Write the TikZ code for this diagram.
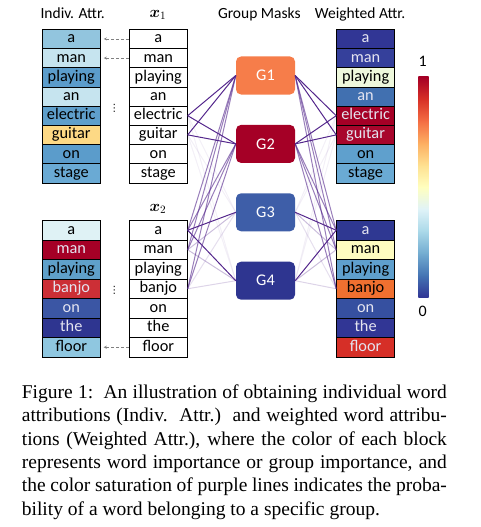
\documentclass[tikz,border=0pt]{standalone}
\usepackage{fix-cm}
\usepackage{amsmath}
\usepackage{fontspec}
\setsansfont{Carlito}
\newfontfamily\capfont{Liberation Serif}
\newfontfamily\dotsfont{DejaVu Sans}
\usetikzlibrary{arrows}

\definecolor{rd1}{HTML}{A50026}
\definecolor{rd2}{HTML}{D73027}
\definecolor{rd3}{HTML}{F46D43}
\definecolor{rd4}{HTML}{FDAE61}
\definecolor{rd5}{HTML}{FEE090}
\definecolor{rd6}{HTML}{FFFFBF}
\definecolor{rd7}{HTML}{E0F3F8}
\definecolor{rd8}{HTML}{ABD9E9}
\definecolor{rd9}{HTML}{74ADD1}
\definecolor{rd10}{HTML}{4575B4}
\definecolor{rd11}{HTML}{313695}
\definecolor{lighttext}{RGB}{228,228,240}
\definecolor{linkpurple}{RGB}{84,39,140}

\tikzstyle{cell} = [draw=black, line width=0.8pt, minimum width=58pt, minimum height=19.2pt, inner sep=0, text height=11.5pt, text depth=3.5pt, font=\sffamily\fontsize{16.3}{19}\selectfont]
\tikzstyle{cellb} = [cell, minimum height=19.5pt]
\tikzstyle{group} = [rounded corners=5pt, minimum width=59pt, minimum height=38pt, inner sep=0, text=white, font=\sffamily\fontsize{16.3}{19}\selectfont]
\tikzstyle{title} = [anchor=base, inner sep=0, font=\sffamily\fontsize{15.5}{18}\selectfont]
\tikzstyle{link} = [linkpurple, line width=1pt]
\tikzstyle{copyarrow} = [densely dashed, gray, ->, >=stealth, shorten >=3pt]
\tikzstyle{capline} = [anchor=base west, inner sep=0, font=\capfont\fontsize{19.5}{23.4}\selectfont]

\begin{document}
\begin{tikzpicture}[x=1pt, y=-1pt]
\useasboundingbox (0,0) rectangle (481,527);

% Titles
\node[title] (tindiv) at (72.7,18.5) {Indiv. Attr.};
\node[title, font=\fontsize{16}{19}\selectfont] (tx1) at (158,17.5) {$\boldsymbol{x}_1$};
\node[title] (tgroup) at (259.3,18.5) {Group Masks};
\node[title] (tweight) at (360,18.5) {Weighted Attr.};
\node[title, font=\fontsize{16}{19}\selectfont] (tx2) at (158,211) {$\boldsymbol{x}_2$};

% Sentence 1
\foreach \w/\f/\t [count=\i] in {a/92C5DE/black, man/C6E4EF/black, playing/5B9CCB/black, an/C6E4EF/black, electric/5F9FCB/black, guitar/FDD985/black, on/5B9CCB/black, stage/6AAAD4/black}{
  \definecolor{tmp}{HTML}{\f}
  \node[cell, fill=tmp, text=\t] (ia-\i) at (71.3,{29.3+19.2*(\i-0.5)}) {\w};
  \node[cell, fill=white] (xa-\i) at (158.3,{29.3+19.2*(\i-0.5)}) {\w};
}
\foreach \w/\f/\t [count=\i] in {a/313695/lighttext, man/35409B/lighttext, playing/EEF8DC/black, an/4170B0/lighttext, electric/A50026/lighttext, guitar/A8062C/lighttext, on/5FA0CD/black, stage/6AAAD4/black}{
  \definecolor{tmp}{HTML}{\f}
  \node[cell, fill=tmp, text=\t] (wa-\i) at (365.6,{29.3+19.2*(\i-0.5)}) {\w};
}

% Sentence 2
\foreach \w/\f/\t [count=\i] in {a/DFF2F5/black, man/A50026/lighttext, playing/5FA0CA/black, banjo/CC2F36/lighttext, on/3B56A4/lighttext, the/2E3590/lighttext, floor/8FC7E0/black}{
  \definecolor{tmp}{HTML}{\f}
  \node[cellb, fill=tmp, text=\t] (ib-\i) at (71.3,{220.5+19.5*(\i-0.5)}) {\w};
  \node[cellb, fill=white] (xb-\i) at (158.3,{220.5+19.5*(\i-0.5)}) {\w};
}
\foreach \w/\f/\t [count=\i] in {a/2F3892/lighttext, man/FEFCC0/black, playing/5F9FCD/black, banjo/F07030/black, on/3650A0/lighttext, the/313695/lighttext, floor/D62F27/lighttext}{
  \definecolor{tmp}{HTML}{\f}
  \node[cellb, fill=tmp, text=\t] (wb-\i) at (365.6,{220.5+19.5*(\i-0.5)}) {\w};
}

% Dots and copies
\node[font=\dotsfont\fontsize{10}{10}\selectfont, inner sep=0] (dots1) at (114.3,108) {⋮};
\node[font=\dotsfont\fontsize{10}{10}\selectfont, inner sep=0] (dots2) at (114.3,290) {⋮};
\draw[copyarrow] (xa-1.west) -- (ia-1.east);
\draw[copyarrow] (xa-2.west) -- (ia-2.east);
\draw[copyarrow] (xb-7.west) -- (ib-7.east);

% Group masks
\foreach \g/\f [count=\i] in {G1/F67D4A, G2/A50026, G3/3E5EA8, G4/2E3590}{
  \definecolor{tmp}{HTML}{\f}
  \node[group, fill=tmp] (g\i) at (265.5,{75.5+68.4*(\i-1)}) {\g};
}

% Links
\foreach \w/\g/\o in {xa-5/g1/1, xa-5/g2/1, xa-6/g1/1, xa-6/g2/1, xa-5/g3/.07, xa-5/g4/.07, xa-6/g3/.07, xa-6/g4/.07,
    xb-1/g1/.6, xb-1/g2/.6, xb-1/g3/1, xb-1/g4/1, xb-2/g1/.6, xb-2/g2/.6, xb-2/g3/.3, xb-2/g4/.3,
    xb-4/g1/.6, xb-4/g2/.6, xb-4/g3/.15, xb-4/g4/.2}
  \draw[link, draw opacity=\o] (\w.east) -- (\g.west);
\foreach \g/\w/\o in {g1/wa-5/1, g2/wa-5/1, g1/wa-6/1, g2/wa-6/1, g3/wa-5/.07, g4/wa-5/.07, g3/wa-6/.07, g4/wa-6/.07,
    g1/wb-1/.6, g2/wb-1/.6, g3/wb-1/1, g4/wb-1/1, g1/wb-2/.6, g2/wb-2/.6, g3/wb-2/.3, g4/wb-2/.3,
    g1/wb-4/.6, g2/wb-4/.6, g3/wb-4/.15, g4/wb-4/.2}
  \draw[link, draw opacity=\o] (\g.east) -- (\w.west);

% Colour bar
\foreach \lo/\hi [count=\k] in {rd11/rd10, rd10/rd9, rd9/rd8, rd8/rd7, rd7/rd6, rd6/rd5, rd5/rd4, rd4/rd3, rd3/rd2, rd2/rd1}
  \shade[bottom color=\lo, top color=\hi] (418.3,{297.3-22*(\k-1)}) rectangle (428.7,{296.9-22*\k});
\node[title, anchor=center, font=\sffamily\fontsize{16}{19}\selectfont] (cbhi) at (422.7,61.7) {1};
\node[title, anchor=center, font=\sffamily\fontsize{16}{19}\selectfont] (cblo) at (422.7,311.7) {0};

% Caption
\node[capline] (cap1) at (21.7,398.3) {\makebox[425pt][s]{Figure 1:\ \ An illustration of obtaining individual word}};
\node[capline] (cap2) at (21.7,421.7) {\makebox[425pt][s]{attributions (Indiv.\ \ Attr.)\ \ and weighted word attribu-}};
\node[capline] (cap3) at (21.7,445.1) {\makebox[425pt][s]{tions (Weighted Attr.), where the color of each block}};
\node[capline] (cap4) at (21.7,468.5) {\makebox[425pt][s]{represents word importance or group importance, and}};
\node[capline] (cap5) at (21.7,491.9) {\makebox[425pt][s]{the color saturation of purple lines indicates the proba-}};
\node[capline] (cap6) at (21.7,515.3) {bility of a word belonging to a specific group.};

\end{tikzpicture}
\end{document}
